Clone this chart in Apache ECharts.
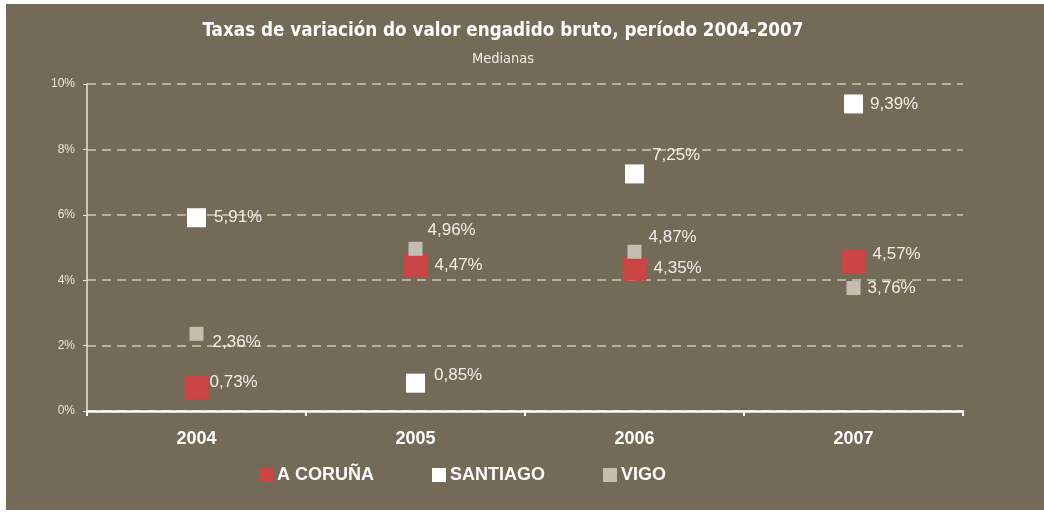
<!DOCTYPE html>
<html>
<head>
<meta charset="utf-8">
<script src="https://cdn.jsdelivr.net/npm/echarts@6/dist/echarts.min.js"></script>
<style>
  html, body { margin: 0; padding: 0; background: #ffffff; }
  #chart { position: absolute; left: 6px; top: 4px; width: 1038px; height: 506px; }
</style>
</head>
<body>
<div id="chart"></div>
<script>
// anos
const years = ['2004', '2005', '2006', '2007']
// medianas (%)
const coruna = [0.73, 4.47, 4.35, 4.57]
const santiago = [5.91, 0.85, 7.25, 9.39]
const vigo = [2.36, 4.96, 4.87, 3.76]
// ticks do eixo Y
const yTicks = [0, 2, 4, 6, 8, 10]

// desprazamento das etiquetas [dx, dy] respecto da marca
const corunaLabelOffset = [[1, -5], [7, 0], [7, 0], [7, -7]]
const santiagoLabelOffset = [[8, 0], [9, -8], [8, -19], [7, 0]]
const vigoLabelOffset = [[9, 8], [5, -18], [7, -14], [7, 0]]

const chart = echarts.init(document.getElementById('chart'))

const fmt = (v) => v.toFixed(2).replace('.', ',') + '%'

function withOffsets(values, offsets) {
  return values.map((v, i) => ({ value: v, label: { offset: offsets[i] } }))
}

function scatter(name, values, offsets, color, size) {
  return {
    name: name,
    type: 'scatter',
    symbol: 'rect',
    symbolSize: size,
    itemStyle: { color: color, opacity: 1 },
    label: {
      show: true,
      position: 'right',
      distance: 0,
      color: '#f2efe8',
      fontFamily: 'Liberation Sans, Arial, sans-serif',
      fontSize: 17,
      formatter: (p) => fmt(p.value)
    },
    emphasis: { disabled: true },
    data: withOffsets(values, offsets)
  }
}

const option = {
  backgroundColor: '#736a57',
  animation: false,
  title: {
    text: 'Taxas de variación do valor engadido bruto, período 2004-2007',
    subtext: 'Medianas',
    left: 497,
    top: 17,
    textAlign: 'center',
    padding: 0,
    itemGap: 10,
    textStyle: {
      color: '#ffffff',
      fontFamily: 'Liberation Sans Narrow, DejaVu Sans Condensed, sans-serif',
      fontWeight: 'bold',
      fontSize: 18.7,
      lineHeight: 20
    },
    subtextStyle: {
      color: '#f0ede6',
      fontFamily: 'Liberation Sans Narrow, DejaVu Sans Condensed, sans-serif',
      fontSize: 14.5,
      lineHeight: 16
    }
  },
  legend: {
    left: 253,
    top: 462,
    icon: 'rect',
    itemWidth: 14,
    itemHeight: 14,
    itemGap: 58,
    padding: 0,
    selectedMode: false,
    textStyle: {
      color: '#ffffff',
      fontFamily: 'Liberation Sans, Arial, sans-serif',
      fontWeight: 'bold',
      fontSize: 18,
      padding: [0, 0, 0, -1]
    },
    data: ['A CORUÑA', 'SANTIAGO', 'VIGO']
  },
  grid: {
    left: 81,
    right: 81,
    top: 80,
    bottom: 99
  },
  xAxis: {
    type: 'category',
    data: years,
    boundaryGap: true,
    axisLine: { lineStyle: { color: '#ffffff', width: 2.5 } },
    axisTick: { show: true, interval: 0, length: 5, lineStyle: { color: '#ffffff', width: 2 } },
    axisLabel: {
      color: '#ffffff',
      fontFamily: 'Liberation Sans, Arial, sans-serif',
      fontWeight: 'bold',
      fontSize: 18,
      margin: 19
    },
    splitLine: { show: false }
  },
  yAxis: {
    type: 'value',
    min: yTicks[0],
    max: yTicks[yTicks.length - 1],
    interval: 2,
    axisLine: { show: true, lineStyle: { color: '#e6e2d8', width: 1.5 } },
    axisTick: { show: true, length: 4, lineStyle: { color: '#e6e2d8', width: 1 } },
    axisLabel: {
      color: '#ece8e0',
      fontFamily: 'Liberation Sans, Arial, sans-serif',
      fontSize: 12,
      margin: 12,
      formatter: '{value}%'
    },
    splitLine: {
      show: true,
      lineStyle: { color: '#cdc7ba', width: 1.5, type: [9, 6] }
    }
  },
  series: [
    scatter('A CORUÑA', coruna, corunaLabelOffset, '#cb4545', 24),
    scatter('SANTIAGO', santiago, santiagoLabelOffset, '#ffffff', 19),
    scatter('VIGO', vigo, vigoLabelOffset, '#c4beb1', 14)
  ]
}

chart.setOption(option)
</script>
</body>
</html>
